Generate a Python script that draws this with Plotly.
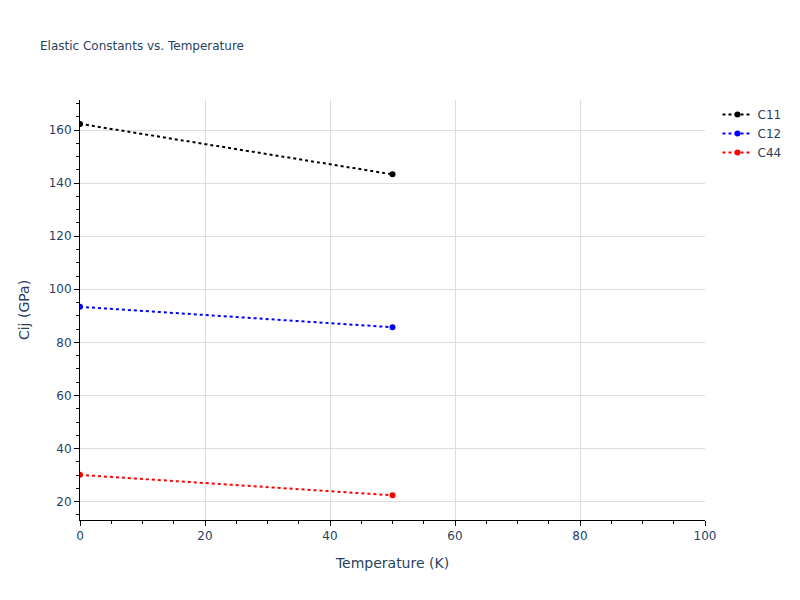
import plotly.graph_objects as go

temperature = [0, 50]
c11 = [162.3, 143.3]
c12 = [93.4, 85.7]
c44 = [30.1, 22.4]
series_names = ["C11", "C12", "C44"]
series_colors = ["black", "blue", "red"]

fig = go.Figure()
for name, vals, col in zip(series_names, [c11, c12, c44], series_colors):
    fig.add_trace(go.Scatter(
        x=temperature, y=vals, mode="lines+markers", name=name,
        line=dict(color=col, dash="dot", width=2),
        marker=dict(color=col, size=6),
    ))

axis_common = dict(
    showline=True, linecolor="black", linewidth=1,
    ticks="outside", tickcolor="black", ticklen=5,
    showgrid=True, gridcolor="#dddddd", zeroline=False,
    minor=dict(ticks="outside", ticklen=3, tickcolor="black", dtick=5, showgrid=False),
)

fig.update_layout(
    template="plotly_white",
    width=800, height=600,
    margin=dict(l=72, r=103, t=92, b=88),
    font=dict(family="Verdana, DejaVu Sans, sans-serif"),
    title=dict(text="Elastic Constants vs. Temperature", font=dict(size=12),
               x=0.04, xanchor="left", y=1 - 38 / 600, yanchor="middle"),
    xaxis=dict(title="Temperature (K)", range=[0, 100], dtick=20, **axis_common),
    yaxis=dict(title="Cij (GPa)", range=[13.1, 171.3], dtick=20, **axis_common),
    plot_bgcolor="white",
    paper_bgcolor="white",
)

fig.write_html("out.html")
